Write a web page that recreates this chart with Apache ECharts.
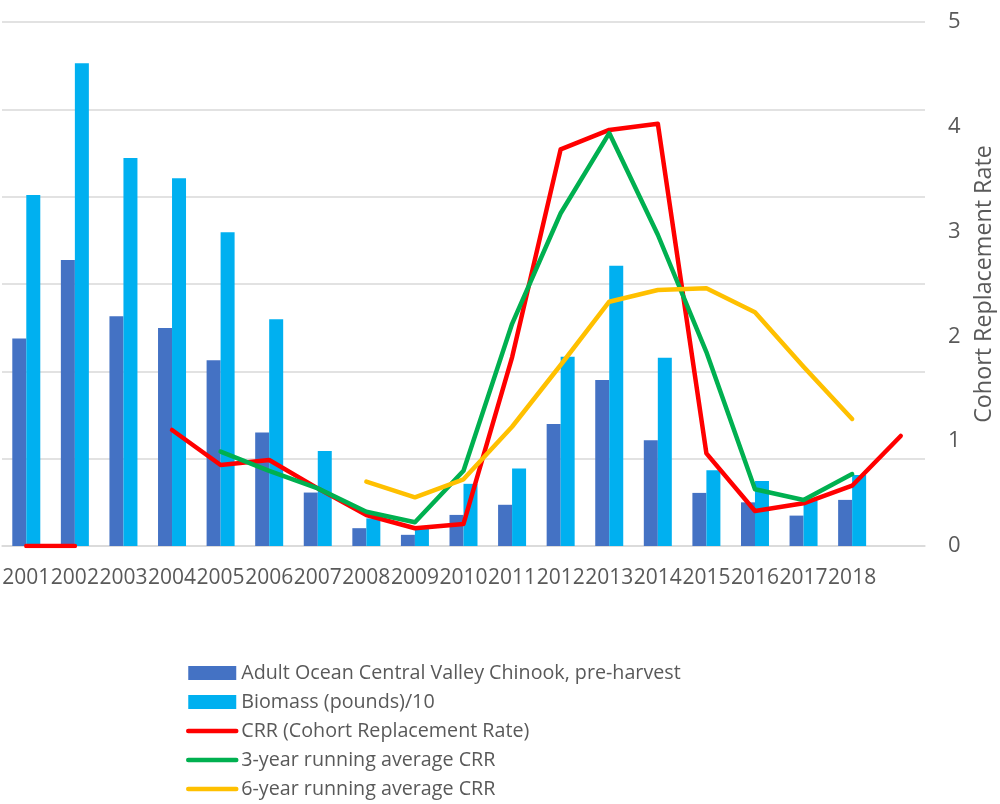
<!DOCTYPE html>
<html>
<head>
<meta charset="utf-8">
<script src="https://cdn.jsdelivr.net/npm/echarts@6/dist/echarts.min.js"></script>
<style>
html,body{margin:0;padding:0;background:#fff;overflow:hidden;width:1000px;height:804px;}
#chart{width:1000px;height:804px;position:absolute;left:0;top:0;}
</style>
</head>
<body>
<div id="chart"></div>
<script>
const years = ['2001','2002','2003','2004','2005','2006','2007','2008','2009','2010','2011','2012','2013','2014','2015','2016','2017','2018',''];
const adultChinook = [594000,819000,658000,624000,532000,325000,153000,51000,32000,89000,118000,349000,475000,303000,152000,125000,87000,132000,null];
const biomassDiv10 = [1005000,1382000,1111000,1053000,898000,649000,272000,79000,50000,178000,222000,542000,802000,539000,217000,186000,130000,203000,null];
const crr = [0,0,null,1.107,0.773,0.821,0.55,0.296,0.169,0.21,1.80,3.785,3.97,4.03,0.884,0.334,0.407,0.575,1.05];
const crr3yr = [null,null,null,null,0.90,0.716,0.55,0.327,0.226,0.718,2.12,3.175,3.94,2.97,1.85,0.541,0.439,0.687,null];
const crr6yr = [null,null,null,null,null,null,null,0.614,0.465,0.636,1.138,1.727,2.331,2.443,2.459,2.23,1.711,1.212,null];
const leftTicks = {min:0,max:1500000,interval:250000};
const rightTicks = {min:0,max:5,interval:1};

const FONT = '"Open Sans", "Noto Sans", sans-serif';
const hiddenSymbol = {color:'rgba(0,0,0,0)',borderColor:'rgba(0,0,0,0)',borderWidth:0};
const chart = echarts.init(document.getElementById('chart'), null, {width:1000, height:804});
chart.setOption({
  animation:false,
  backgroundColor:'#ffffff',
  textStyle:{fontFamily:FONT},
  grid:{left:2,right:75,top:22,bottom:258,containLabel:false,outerBoundsMode:'none'},
  legend:{
    orient:'vertical',left:186,top:662,padding:0,
    itemWidth:48,itemHeight:14,itemGap:7,
    lineStyle:{width:4.5},
    textStyle:{fontFamily:FONT,fontSize:19.7,color:'#595959',lineHeight:22},
    data:[
      {name:'Adult Ocean Central Valley Chinook, pre-harvest',icon:'rect'},
      {name:'Biomass (pounds)/10',icon:'rect'},
      {name:'CRR (Cohort Replacement Rate)',itemStyle:hiddenSymbol},
      {name:'3-year running average CRR',itemStyle:hiddenSymbol},
      {name:'6-year running average CRR',itemStyle:hiddenSymbol}
    ]
  },
  xAxis:{
    type:'category',data:years,
    axisTick:{show:false},
    axisLine:{lineStyle:{color:'#d9d9d9',width:1.5}},
    axisLabel:{interval:0,fontFamily:FONT,fontSize:21,color:'#595959',margin:22}
  },
  yAxis:[
    {type:'value',position:'left',min:leftTicks.min,max:leftTicks.max,interval:leftTicks.interval,
     axisLabel:{show:false},axisLine:{show:false},axisTick:{show:false},
     splitLine:{lineStyle:{color:'#d9d9d9',width:1.5}}},
    {type:'value',position:'right',min:rightTicks.min,max:rightTicks.max,interval:rightTicks.interval,
     axisLabel:{fontFamily:FONT,fontSize:22,color:'#595959',margin:23},
     axisLine:{show:false},axisTick:{show:false},splitLine:{show:false},
     name:'Cohort Replacement Rate',nameLocation:'middle',nameRotate:90,nameGap:48,
     nameTextStyle:{fontFamily:FONT,fontSize:23.3,color:'#595959'}}
  ],
  series:[
    {name:'Adult Ocean Central Valley Chinook, pre-harvest',type:'bar',yAxisIndex:0,data:adultChinook,
     barWidth:14,barGap:'0%',itemStyle:{color:'#4472C4'}},
    {name:'Biomass (pounds)/10',type:'bar',yAxisIndex:0,data:biomassDiv10,
     barWidth:14,barGap:'0%',itemStyle:{color:'#00B0F0'}},
    {name:'CRR (Cohort Replacement Rate)',type:'line',yAxisIndex:1,data:crr,symbol:'none',
     lineStyle:{color:'#FF0000',width:4.5,cap:'round',join:'round'},itemStyle:{color:'#FF0000'}},
    {name:'3-year running average CRR',type:'line',yAxisIndex:1,data:crr3yr,symbol:'none',
     lineStyle:{color:'#00B050',width:4.5,cap:'round',join:'round'},itemStyle:{color:'#00B050'}},
    {name:'6-year running average CRR',type:'line',yAxisIndex:1,data:crr6yr,symbol:'none',
     lineStyle:{color:'#FFC000',width:4.5,cap:'round',join:'round'},itemStyle:{color:'#FFC000'}}
  ]
});
</script>
</body>
</html>
